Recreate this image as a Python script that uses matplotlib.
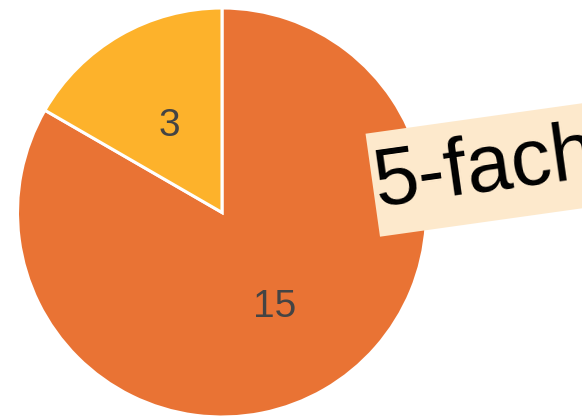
import numpy as np
import matplotlib
matplotlib.use("Agg")
import matplotlib.pyplot as plt
from matplotlib.patches import Rectangle

# Slice values, clockwise from 12 o'clock
values = [15, 3]
colors = ["#E97334", "#FDB22B"]
callout = "5-fach"

W, H = 582, 417
FONT = "Liberation Sans"

fig = plt.figure(figsize=(W / 100, H / 100), dpi=100)
ax = fig.add_axes([0, 0, 1, 1])

wedges, texts, autotexts = ax.pie(
    values,
    colors=colors,
    startangle=90,
    counterclock=False,
    center=(222, H - 212.5),
    radius=204.5,
    autopct=lambda p: f"{round(p * sum(values) / 100):d}",
    pctdistance=0.51,
    wedgeprops=dict(edgecolor="white", linewidth=2.2),
    textprops=dict(fontsize=28, color="#444444", family=FONT),
    frame=True,
)
for t in autotexts:
    t.set_va("center_baseline")
ax.set_xlim(0, W)
ax.set_ylim(0, H)
ax.set_aspect("equal")
ax.axis("off")

# Rotated callout: peach band with the label laid on top
ang = 8.0
box_h = 104
x0, y0 = 380, H - 236.7          # lower-left corner of the band
ax.add_patch(Rectangle((x0, y0), 320, box_h, angle=ang, rotation_point="xy",
                       facecolor="#FDE9CC", edgecolor="none", zorder=4))
a = np.deg2rad(ang)
mx = x0 - box_h / 2 * np.sin(a) + 2 * np.cos(a)
my = y0 + box_h / 2 * np.cos(a) + 2 * np.sin(a)
ax.text(mx, my, callout,
        fontsize=58, family=FONT, color="black",
        rotation=ang, rotation_mode="anchor", ha="left", va="center",
        zorder=5)

fig.savefig("out.png", dpi=100)
